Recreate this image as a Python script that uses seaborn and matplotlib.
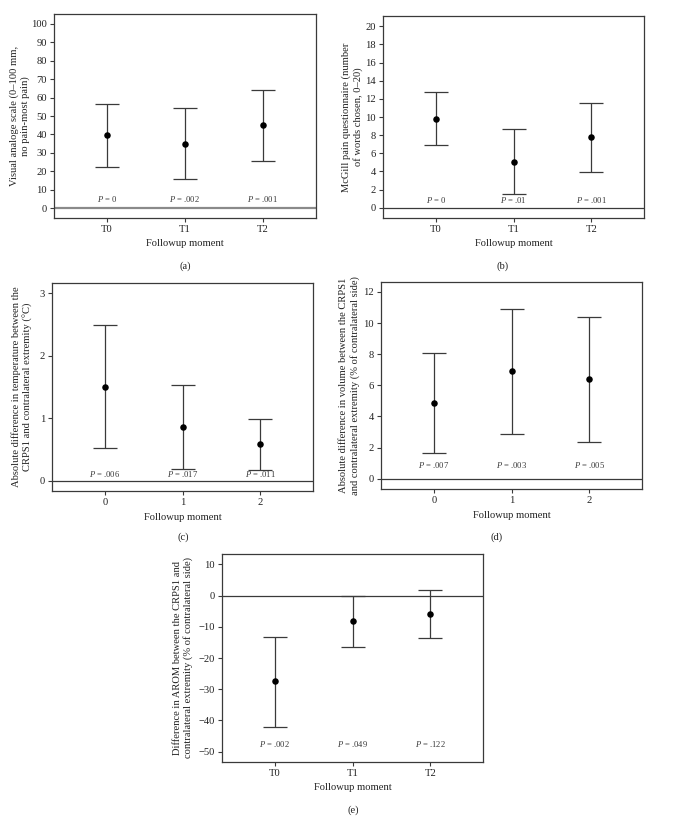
import matplotlib
matplotlib.use("Agg")
import matplotlib.pyplot as plt
import seaborn as sns
import pandas as pd

sns.set_theme(style="white")
plt.rcParams['font.family'] = ['Liberation Serif', 'DejaVu Serif']
plt.rcParams['mathtext.fontset'] = 'custom'
plt.rcParams['mathtext.it'] = 'Liberation Serif:italic'
plt.rcParams['mathtext.rm'] = 'Liberation Serif'

# ---- data ----
moments_T = ["T0", "T1", "T2"]
moments_N = ["0", "1", "2"]

vas_mean = [39.5, 35.0, 45.0]
vas_low = [22.5, 16.0, 25.5]
vas_high = [56.5, 54.5, 64.0]
vas_p = ["0", ".002", ".001"]

mcgill_mean = [9.8, 5.05, 7.75]
mcgill_low = [6.9, 1.5, 3.9]
mcgill_high = [12.75, 8.7, 11.55]
mcgill_p = ["0", ".01", ".001"]

temp_mean = [1.5, 0.86, 0.58]
temp_low = [0.52, 0.19, 0.17]
temp_high = [2.49, 1.53, 0.99]
temp_p = [".006", ".017", ".011"]

vol_mean = [4.87, 6.9, 6.38]
vol_low = [1.65, 2.87, 2.36]
vol_high = [8.1, 10.9, 10.41]
vol_p = [".007", ".003", ".005"]

arom_mean = [-27.5, -8.3, -5.8]
arom_low = [-42.0, -16.6, -13.6]
arom_high = [-13.2, 0.0, 1.9]
arom_p = [".002", ".049", ".122"]

W, H = 684, 816
fig = plt.figure(figsize=(W / 100, H / 100), dpi=100)

def rect(l, t, r, b):
    return [l / W, 1 - b / H, (r - l) / W, (b - t) / H]

dark = "#3a3a3a"
fs = 7.6

def panel(pos, labels, mean, low, high, pvals, ylim, yticks, ylabel, ptext_y,
          letter, letter_xy, zero_color=dark, zero_lw=0.9, ylabelpad=4):
    ax = fig.add_axes(rect(*pos))
    x = list(range(len(labels)))
    df = pd.DataFrame({"x": x, "mean": mean, "low": low, "high": high})
    ax.axhline(0, color=zero_color, lw=zero_lw, zorder=1)
    ax.errorbar(df["x"], df["mean"],
                yerr=[df["mean"] - df["low"], df["high"] - df["mean"]],
                fmt="none", ecolor=dark, elinewidth=0.9, capsize=8.5,
                capthick=0.9, zorder=2)
    sns.scatterplot(data=df, x="x", y="mean", ax=ax, color="black", s=22,
                    edgecolor="black", linewidth=0, zorder=3, legend=False)
    for xi, p in zip(x, pvals):
        ax.text(xi, ptext_y, "$P$ = " + p,
                ha="center", va="bottom", fontsize=6.2, color=dark)
    ax.set_xlim(-0.68, 2.68)
    ax.set_ylim(*ylim)
    ax.set_xticks(x)
    ax.set_xticklabels(labels, fontsize=fs, color="#222")
    ax.set_yticks(yticks)
    ax.set_yticklabels([("\u2212" + str(abs(t))) if t < 0 else str(t) for t in yticks],
                       fontsize=fs, color="#222")
    ax.tick_params(axis="both", direction="out", length=3, width=0.8,
                   color=dark, pad=2, left=True, bottom=True)
    ax.set_xlabel("Followup moment", fontsize=fs, color="#222", labelpad=4)
    ax.set_ylabel(ylabel, fontsize=fs, color="#222", labelpad=ylabelpad,
                  linespacing=1.2)
    for s in ax.spines.values():
        s.set_color(dark)
        s.set_linewidth(0.9)
    ax.grid(False)
    fig.text(letter_xy[0] / W, 1 - letter_xy[1] / H, letter, ha="center",
             va="center", fontsize=fs, color="#222")
    return ax

panel((54, 14, 316, 218), moments_T, vas_mean, vas_low, vas_high, vas_p,
      (-5.4, 105.4), list(range(0, 101, 10)),
      "Visual analoge scale (0\u2013100 mm,\nno pain-most pain)", 2.3,
      "(a)", (185, 266), zero_color="#8a8a8a", zero_lw=1.6, ylabelpad=0.5)

panel((383, 16, 644, 218), moments_T, mcgill_mean, mcgill_low, mcgill_high,
      mcgill_p, (-1.13, 21.14), list(range(0, 21, 2)),
      "McGill pain questionnaire (number\nof words chosen, 0\u201320)", 0.35,
      "(b)", (503, 266), ylabelpad=2)

panel((52, 283, 313, 491), moments_N, temp_mean, temp_low, temp_high, temp_p,
      (-0.165, 3.16), [0, 1, 2, 3],
      "Absolute difference in temperature between the\nCRPS1 and contralateral extremity (\u00b0C)",
      0.03, "(c)", (183, 537), ylabelpad=5)

panel((381, 282, 642, 489), moments_N, vol_mean, vol_low, vol_high, vol_p,
      (-0.66, 12.64), list(range(0, 13, 2)),
      "Absolute difference in volume between the CRPS1\nand contralateral extremity (% of contralateral side)",
      0.55, "(d)", (497, 537), ylabelpad=2.5)

panel((222, 554, 483, 762), moments_T, arom_mean, arom_low, arom_high, arom_p,
      (-53.3, 13.3), list(range(-50, 11, 10)),
      "Difference in AROM between the CRPS1 and\ncontralateral extremity (% of contralateral side)",
      -49.0, "(e)", (353, 810))

fig.savefig("out.png", dpi=100)
